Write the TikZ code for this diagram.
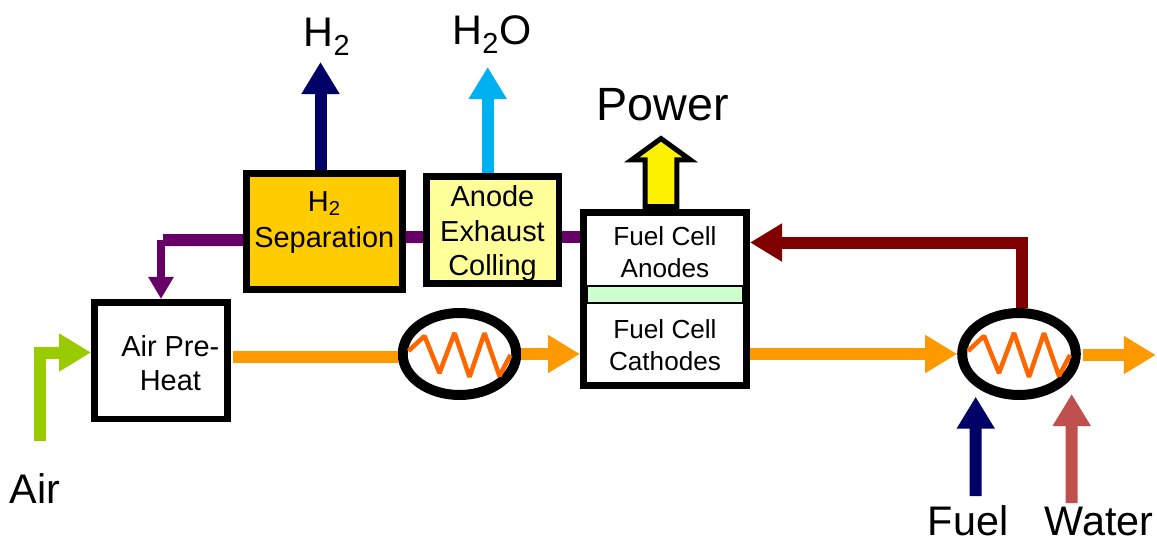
\documentclass[tikz,border=0pt]{standalone}
\usepackage{fontspec}
\setmainfont{Liberation Sans}
\usetikzlibrary{arrows.meta,shapes.geometric,shapes.arrows}
\definecolor{navyflow}{HTML}{000066}
\definecolor{cyanflow}{HTML}{00B0F0}
\definecolor{purpleflow}{HTML}{660066}
\definecolor{redflow}{HTML}{800000}
\definecolor{orangeflow}{HTML}{FF9900}
\definecolor{limeflow}{HTML}{99CC00}
\definecolor{waterflow}{HTML}{C0504D}
\definecolor{coilcolor}{HTML}{FF6600}
\definecolor{sepfill}{HTML}{FFCC00}
\definecolor{anodefill}{HTML}{FFFF99}
\definecolor{bandfill}{HTML}{CCFFCC}
\tikzset{
unitbox/.style={draw=black, line width=4.9pt, fill=white, inner sep=0pt, align=center},
cellbox/.style={font=\fontsize{19.6}{24}\selectfont, align=center, inner sep=0pt},
exchanger/.style={ellipse, draw=black, line width=7.5pt, inner sep=0pt, minimum width=85.2pt, minimum height=61.5pt},
coil/.style={draw=coilcolor, line width=3.4pt, line join=bevel},
outerlabel/.style={font=\fontsize{31}{36}\selectfont, inner sep=0pt, text depth=0pt, anchor=south},
pipe/.style={line width=9pt},
flow/.style={pipe, -{Triangle[length=24pt,width=27pt]}}
}
\begin{document}
\begin{tikzpicture}[x=0.75pt, y=-0.75pt]
\useasboundingbox (0,0) rectangle (1157,539);
\node[unitbox, fill=sepfill, minimum width=117pt, minimum height=87pt, font=\fontsize{21.7}{27}\selectfont] (sep) at (324.3,231.3) {H\textsubscript{2}\\Separation\\[-9pt]\mbox{}};
\node[unitbox, fill=anodefill, minimum width=99.4pt, minimum height=80.6pt, font=\fontsize{21.7}{25.9}\selectfont] (cooling) at (492.5,230) {\rule{0pt}{21.5pt}Anode\\Exhaust\\Colling};
\node[unitbox, minimum width=100pt, minimum height=87.4pt, font=\fontsize{21.7}{26}\selectfont] (preheat) at (161,360.5) {\rule{0pt}{19.5pt}\hspace*{14pt}Air Pre-\\\hspace*{14pt}Heat};
\node[unitbox, minimum width=122.6pt, minimum height=130pt] (fuelcell) at (665,299) {};
\node[cellbox] (anodes) at (665,252.5) {Fuel Cell\\Anodes};
\node[cellbox] (cathodes) at (665,345.5) {Fuel Cell\\Cathodes};
\node[draw=black, line width=1.5pt, fill=bandfill, minimum width=117.7pt, minimum height=13pt, inner sep=0pt] (band) at (665,294.8) {};
\node[exchanger] (hxa) at (459.5,354) {};
\node[exchanger] (hxb) at (1019,354) {};
\node[single arrow, shape border rotate=90, draw=black, fill=yellow, line width=3.75pt, inner sep=10.1pt, minimum width=40pt, minimum height=51pt, single arrow head extend=10pt, single arrow tip angle=108, anchor=tail] (powerarrow) at ([shift={(-4,0)}]fuelcell.north) {};
\node[outerlabel] (hydrogen) at (327,47) {H\textsubscript{2}};
\node[outerlabel] (water) at (492,45) {H\textsubscript{2}O};
\node[outerlabel, font=\fontsize{35}{40}\selectfont] (power) at (663,121) {Power};
\node[outerlabel] (air) at (35,504) {Air};
\node[outerlabel] (fuel) at (968,536) {Fuel};
\node[outerlabel] (feedwater) at (1099,536) {Water};
\coordinate (bend) at (161,240);
\foreach \hx in {hxa,hxb}{
\draw[coil] ([shift={(-51,-3)}]\hx.center) -- ++(16,-15) -- ++(15,37) -- ++(15,-40) -- ++(15,44) -- ++(15,-44) -- ++(15,43) -- ++(11,-21);
}
\draw[flow, navyflow] ([shift={(-3.8,0)}]sep.north) -- ([shift={(-6.5,15)}]hydrogen.south);
\draw[flow, cyanflow] ([shift={(-4.8,0)}]cooling.north) -- ([shift={(-4.3,22)}]water.south);
\draw[pipe, purpleflow] ([shift={(0,-62)}]fuelcell.west) -- ([shift={(0,7)}]cooling.east);
\draw[pipe, purpleflow] ([shift={(0,7)}]cooling.west) -- ([shift={(0,5.7)}]sep.east);
\draw[pipe, purpleflow] ([shift={(0,8.7)}]sep.west) -- ([shift={(2,0)}]bend);
\draw[line width=6pt, purpleflow, -{Triangle[length=16.5pt,width=18pt]}] (bend) -- (preheat.north);
\draw[flow, limeflow] ([shift={(5,-63)}]air.south) |- ([shift={(0,-8)}]preheat.west);
\draw[pipe, orangeflow] ([shift={(2,-3.5)}]preheat.east) -- ([shift={(0,3)}]hxa.west);
\draw[flow, orangeflow] (hxa.east) -- (hxa.east -| fuelcell.west);
\draw[flow, orangeflow] (fuelcell.east |- hxb.west) -- (hxb.west);
\draw[flow, orangeflow] ([shift={(2,1)}]hxb.east) -- ([shift={(75,1)}]hxb.east);
\draw[flow, redflow] ([shift={(3,0)}]hxb.north) |- ([shift={(0,-56.5)}]fuelcell.east);
\draw[flow, navyflow] ([shift={(7.7,-40)}]fuel.south) -- ([shift={(-43.3,42.7)}]hxb.center);
\draw[flow, waterflow] ([shift={(-27.3,-33)}]feedwater.south) -- ([shift={(52.7,40)}]hxb.center);
\end{tikzpicture}
\end{document}
